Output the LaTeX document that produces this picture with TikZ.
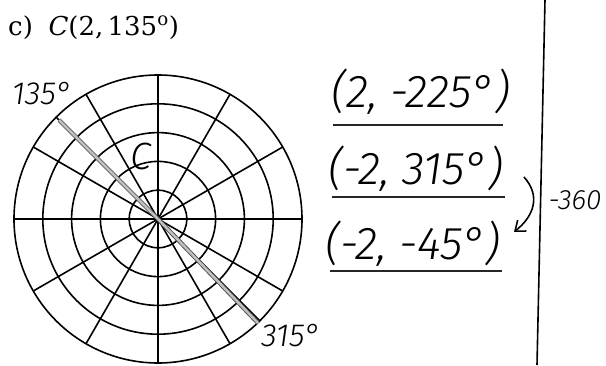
\documentclass[tikz,border=0pt]{standalone}
\usepackage{fontspec}
\newfontfamily\hand{Fira Sans Light}[ItalicFont={Fira Sans Light Italic}]
\newfontfamily\titlefont{DejaVu Serif}
\usetikzlibrary{arrows.meta,calc}
\begin{document}
\begin{tikzpicture}[x=1pt,y=-1pt,
  grid/.style={line width=1.6pt, black},
  ring/.style={line width=1.6pt, black},
  stripe/.style={draw=black!75, double=black!25, double distance=2.6pt, line width=0.8pt},
  hw/.style={font=\hand\itshape\fontsize{46}{50}\selectfont, inner sep=0pt},
  hwlabel/.style={font=\hand\itshape\fontsize{32}{36}\selectfont, inner sep=0pt},
  hwsmall/.style={font=\hand\itshape\fontsize{28}{32}\selectfont, inner sep=0pt},
  uline/.style={line width=1.4pt, black!85}]
\useasboundingbox (0,0) rectangle (606,365);
\coordinate (O) at (158,219);
% rings
\foreach \r in {28.8,57.6,86.4,115.2,144}
  \draw[ring] (O) circle[radius=\r];
% radial lines
\foreach \a in {0,30,45,60,90,120,150,180,210,225,240,270,300,330}
  \draw[grid] (O) -- ++(\a:144);
% highlighted 135 and 315 rays
\coordinate (P135) at ($(O)+(-99,-99)$);
\coordinate (P315) at ($(O)+(100,104)$);
\draw[stripe] (O) -- (P135);
\draw[stripe] (O) -- (P315);
% labels on grid
\node[hwlabel] (l135) at (42,94) {135°};
\node[hwlabel] (l315) at (291,336) {315°};
\node[font=\hand\itshape\fontsize{38}{42}\selectfont, inner sep=0pt] (lC) at (141,156) {C};
% title
\node[anchor=base west, inner sep=0pt, font=\titlefont\fontsize{26}{30}\selectfont] (title) at (8,35) {c)\hspace{0.6em}\textit{C}(2,\,135\textsuperscript{o})};
% right side
\node[hw] (e1) at (421,92) {(2, -225°)};
\node[hw] (e2) at (416,169) {(-2, 315°)};
\node[hw] (e3) at (413,244) {(-2, -45°)};
\coordinate (u1a) at (333,125); \coordinate (u1b) at (503,125);
\coordinate (u2a) at (332,197); \coordinate (u2b) at (505,197);
\coordinate (u3a) at (330,271); \coordinate (u3b) at (502,271);
\draw[uline] (u1a) -- (u1b);
\draw[uline] (u2a) -- (u2b);
\draw[uline] (u3a) -- (u3b);
\coordinate (arS) at (524,177);
\coordinate (arE) at (514,232);
\draw[line width=1.6pt, -{Straight Barb[length=9pt,width=14pt]}] (arS) .. controls (541,196) and (534,216) .. (arE);
\node[hwsmall] (m360) at (575,200) {-360};
% vertical divider
\coordinate (vT) at (545,0);
\coordinate (vB) at (537,365);
\draw[line width=1.6pt] (vT) -- (vB);
\end{tikzpicture}
\end{document}
